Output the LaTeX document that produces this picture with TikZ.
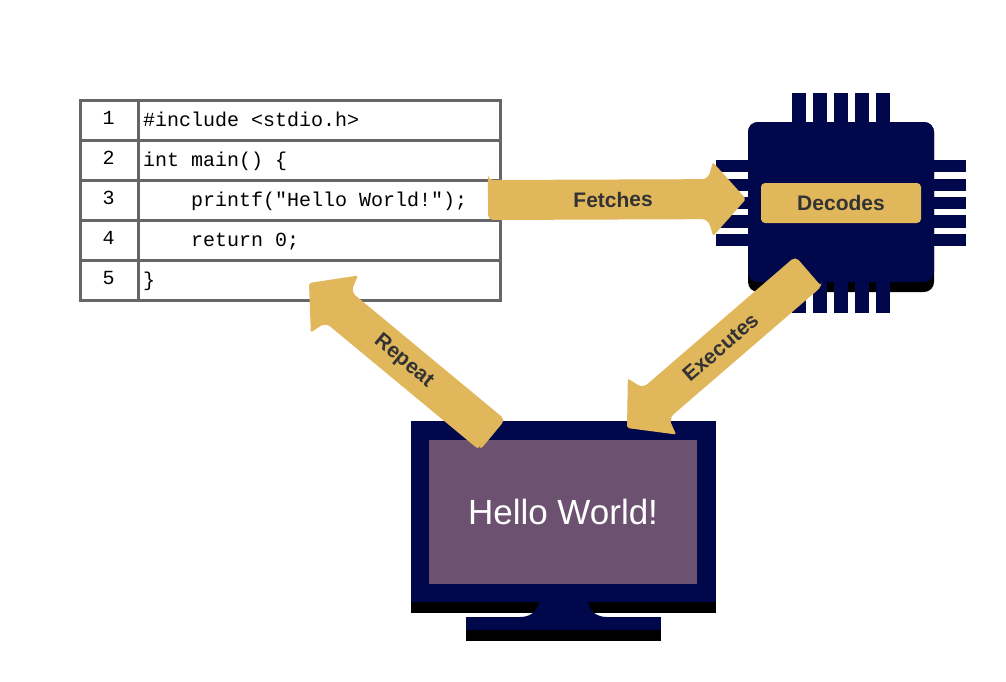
\documentclass[tikz,border=0pt]{standalone}
\usepackage{fontspec}
\usepackage{tikz}
\usetikzlibrary{calc}
\setmainfont{Liberation Sans}
\setmonofont{Liberation Mono}
\definecolor{chipnavy}{HTML}{00074A}
\definecolor{arrowgold}{HTML}{E1B75C}
\definecolor{screenplum}{HTML}{6C5270}
\definecolor{labelgrey}{HTML}{333333}
\definecolor{gridgrey}{HTML}{666666}
\tikzset{
	navy/.style={fill=chipnavy},
	gridline/.style={draw=gridgrey, line width=3pt},
	codetext/.style={anchor=base west, inner sep=0pt, font=\ttfamily\fontsize{20}{24}\selectfont},
	rownumber/.style={anchor=base, inner sep=0pt, font=\ttfamily\fontsize{20}{24}\selectfont},
	arrowlabel/.style={inner sep=0pt, text=labelgrey, font=\bfseries\fontsize{21}{25}\selectfont},
	goldbox/.style={fill=arrowgold, rounded corners=4pt, minimum width=160pt, minimum height=40pt, inner sep=0pt}
}
\newcommand{\blockarrow}[4]{
	\fill[arrowgold] ($(#1)!20pt!90:(#2)$) [rounded corners=6pt]
		-- ($(#2)!38pt!(#1)!20pt!-90:(#1)$) [rounded corners=1.5pt]
		-- ($(#2)!33pt!(#1)!37pt!-90:(#1)$) [rounded corners=2pt]
		-- (#2)
		-- ($(#2)!33pt!(#1)!37pt!90:(#1)$) [rounded corners=6pt]
		-- ($(#2)!38pt!(#1)!20pt!90:(#1)$) [rounded corners=5pt]
		-- ($(#1)!20pt!-90:(#2)$)
		-- ($(#1)!20pt!90:(#2)$) -- cycle;
	\path (#1) -- (#2) node[arrowlabel, pos=0.485, sloped] (#3) {#4};
}
\begin{document}
\begin{tikzpicture}[x=1pt, y=-1pt]
	\useasboundingbox (0,0) rectangle (1006,681);
	% chip
	\fill[black, rounded corners=10pt] (748,122) rectangle (934,292);
	\fill[navy, rounded corners=10pt] (748,122) rectangle (934,282);
	\fill[navy] (792,93) rectangle (806,122);
	\fill[navy] (813,93) rectangle (827,122);
	\fill[navy] (834,93) rectangle (848,122);
	\fill[navy] (855,93) rectangle (869,122);
	\fill[navy] (876,93) rectangle (890,122);
	\fill[navy] (792,280) rectangle (806,313);
	\fill[navy] (813,280) rectangle (827,313);
	\fill[navy] (834,280) rectangle (848,313);
	\fill[navy] (855,280) rectangle (869,313);
	\fill[navy] (876,280) rectangle (890,313);
	\fill[navy] (716,160) rectangle (748,172);
	\fill[navy] (716,179) rectangle (748,191);
	\fill[navy] (716,197) rectangle (748,209);
	\fill[navy] (716,215) rectangle (748,228);
	\fill[navy] (716,234) rectangle (748,246);
	\fill[navy] (934,160) rectangle (966,172);
	\fill[navy] (934,179) rectangle (966,191);
	\fill[navy] (934,197) rectangle (966,209);
	\fill[navy] (934,215) rectangle (966,228);
	\fill[navy] (934,234) rectangle (966,246);
	\node[goldbox, text=labelgrey, font=\bfseries\fontsize{21}{25}\selectfont] (decodes) at (841,203) {Decodes};
	% monitor
	\fill[black] (411,600) rectangle (716,613);
	\fill[navy] (411,421) rectangle (716,602);
	\fill[black] (466,628) rectangle (661,641);
	\fill[navy] (466,617) rectangle (661,630);
	\fill[navy] (539,600) -- (539,602) .. controls (537,612) and (530,617) .. (520,617)
		-- (607,617) .. controls (597,617) and (590,612) .. (588,602) -- (588,600) -- cycle;
	\node[fill=screenplum, minimum width=268pt, minimum height=144pt, inner sep=0pt, text=white,
		font=\fontsize{35}{42}\selectfont] (screen) at (563,512) {Hello World!};
	% code table
	\draw[gridline] (80,100.5) rectangle (500,300);
	\draw[gridline] (138,100.5) -- (138,300);
	\draw[gridline] (80,140.5) -- (500,140.5);
	\draw[gridline] (80,180.5) -- (500,180.5);
	\draw[gridline] (80,220.5) -- (500,220.5);
	\draw[gridline] (80,260.5) -- (500,260.5);
	\node[rownumber] (rowa) at (108.7,124.5) {1};
	\node[rownumber] (rowb) at (108.7,164.5) {2};
	\node[rownumber] (rowc) at (108.7,204.5) {3};
	\node[rownumber] (rowd) at (108.7,244.5) {4};
	\node[rownumber] (rowe) at (108.7,284.5) {5};
	\node[codetext] (linea) at (143,126.5) {\#include <stdio.h>};
	\node[codetext] (lineb) at (143,166.5) {int main() \{};
	\node[codetext] (linec) at (191,206.5) {printf("Hello World!");};
	\node[codetext] (lined) at (191,246.5) {return 0;};
	\node[codetext] (linee) at (143,286.5) {\}};
	% arrows
	\coordinate (fetchtail) at (488,200);
	\coordinate (fetchtip) at (746,199);
	\coordinate (exectail) at (808.5,271.5);
	\coordinate (exectip) at (627,428);
	\coordinate (repeattail) at (492.5,435);
	\coordinate (repeattip) at (309,283);
	\blockarrow{fetchtail}{fetchtip}{fetches}{Fetches}
	\blockarrow{exectail}{exectip}{executes}{Executes}
	\blockarrow{repeattail}{repeattip}{repeatlabel}{Repeat}
\end{tikzpicture}
\end{document}
